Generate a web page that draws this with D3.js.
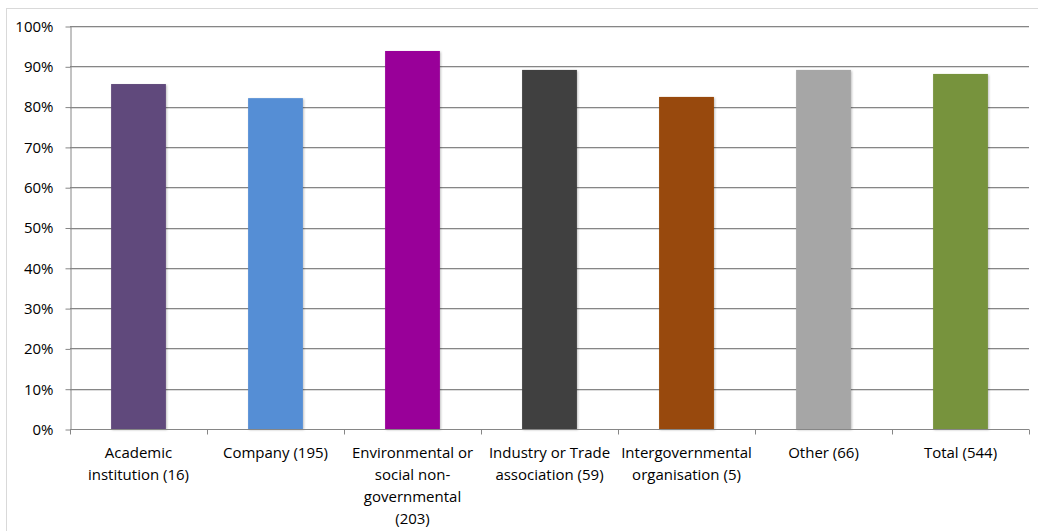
<!DOCTYPE html>
<html>
<head>
<meta charset="utf-8">
<script src="https://cdn.jsdelivr.net/npm/d3@7"></script>
<style>
  html, body { margin: 0; padding: 0; background: #fff; }
  svg { display: block; }
  text { font-family: "Open Sans", "Liberation Sans", sans-serif; fill: #000; }
</style>
</head>
<body>
<svg id="chart" width="1038" height="531"></svg>
<script>
// Respondent groups (label lines as printed under the axis)
const categories = [
  "Academic institution (16)",
  "Company (195)",
  "Environmental or social non-governmental (203)",
  "Industry or Trade association (59)",
  "Intergovernmental organisation (5)",
  "Other (66)",
  "Total (544)"
];
const labelLines = [
  ["Academic", "institution (16)"],
  ["Company (195)"],
  ["Environmental or", "social non-", "governmental", "(203)"],
  ["Industry or Trade", "association (59)"],
  ["Intergovernmental", "organisation (5)"],
  ["Other (66)"],
  ["Total (544)"]
];
// Share of respondents, percent
const values = [85.6, 82.1, 93.8, 89.1, 82.4, 89.1, 88.1];
const barColors = ["#604A7B", "#558ED5", "#990099", "#404040", "#984807", "#A6A6A6", "#77933C"];
const yTicks = [0, 10, 20, 30, 40, 50, 60, 70, 80, 90, 100];

const svg = d3.select("#chart");
const plot = { left: 70, right: 1029, top: 26, bottom: 429 };
const fontSize = 15;

// Chart frame
svg.append("rect")
  .attr("x", 6.5).attr("y", 8.5)
  .attr("width", 1040).attr("height", 530)
  .attr("fill", "#fff").attr("stroke", "#d9d9d9");

const x = d3.scaleBand().domain(categories).range([plot.left, plot.right])
  .paddingInner(0.6).paddingOuter(0.3);
const y = d3.scaleLinear().domain([0, 100]).range([plot.bottom, plot.top]);

const defs = svg.append("defs");
const shadow = defs.append("filter").attr("id", "shadow")
  .attr("x", "-20%").attr("y", "-5%").attr("width", "140%").attr("height", "110%");
shadow.append("feDropShadow").attr("dx", 1).attr("dy", 1)
  .attr("stdDeviation", 1.2).attr("flood-color", "#000").attr("flood-opacity", 0.25);

// Gridlines with a faint shadow below
const grid = svg.append("g");
grid.selectAll("line.sh").data(yTicks.filter(d => d > 0)).join("line")
  .attr("class", "sh")
  .attr("x1", plot.left).attr("x2", plot.right)
  .attr("y1", d => Math.round(y(d)) + 1.5).attr("y2", d => Math.round(y(d)) + 1.5)
  .attr("stroke", "#dcdcdc");
grid.selectAll("line.g").data(yTicks.filter(d => d > 0)).join("line")
  .attr("class", "g")
  .attr("x1", plot.left).attr("x2", plot.right)
  .attr("y1", d => Math.round(y(d)) + 0.5).attr("y2", d => Math.round(y(d)) + 0.5)
  .attr("stroke", "#868686");

// Bars
svg.append("g").selectAll("rect").data(values).join("rect")
  .attr("x", (d, i) => x(categories[i]))
  .attr("width", x.bandwidth())
  .attr("y", d => y(d))
  .attr("height", d => y(0) - y(d))
  .attr("fill", (d, i) => barColors[i])
  .attr("filter", "url(#shadow)");

// Y axis
const yAxis = svg.append("g").attr("transform", `translate(${plot.left + 0.5},0.5)`)
  .call(d3.axisLeft(y).tickValues(yTicks).tickFormat(d => d + "%").tickSize(5).tickSizeOuter(0));
yAxis.select(".domain").attr("stroke", "#868686");
yAxis.selectAll(".tick line").attr("stroke", "#868686");
yAxis.selectAll(".tick text").attr("x", -17).attr("font-size", fontSize)
  .attr("font-family", "'Open Sans', 'Liberation Sans', sans-serif").attr("fill", "#000");

// X axis with category boundary ticks
const xAxisG = svg.append("g").attr("transform", `translate(0,${plot.bottom + 0.5})`);
xAxisG.append("line").attr("x1", plot.left).attr("x2", plot.right).attr("stroke", "#868686");
const bounds = d3.range(categories.length + 1).map(i => plot.left + i * x.step());
xAxisG.selectAll("line.t").data(bounds).join("line").attr("class", "t")
  .attr("x1", d => Math.round(d) + 0.5).attr("x2", d => Math.round(d) + 0.5)
  .attr("y1", 0).attr("y2", 5).attr("stroke", "#868686");

const labels = svg.append("g").selectAll("text").data(labelLines).join("text")
  .attr("text-anchor", "middle")
  .attr("font-size", fontSize)
  .attr("transform", (d, i) => `translate(${x(categories[i]) + x.bandwidth() / 2},458)`);
labels.selectAll("tspan").data(d => d).join("tspan")
  .attr("x", 0).attr("y", (d, j) => j * 22)
  .text(d => d);
</script>
</body>
</html>
